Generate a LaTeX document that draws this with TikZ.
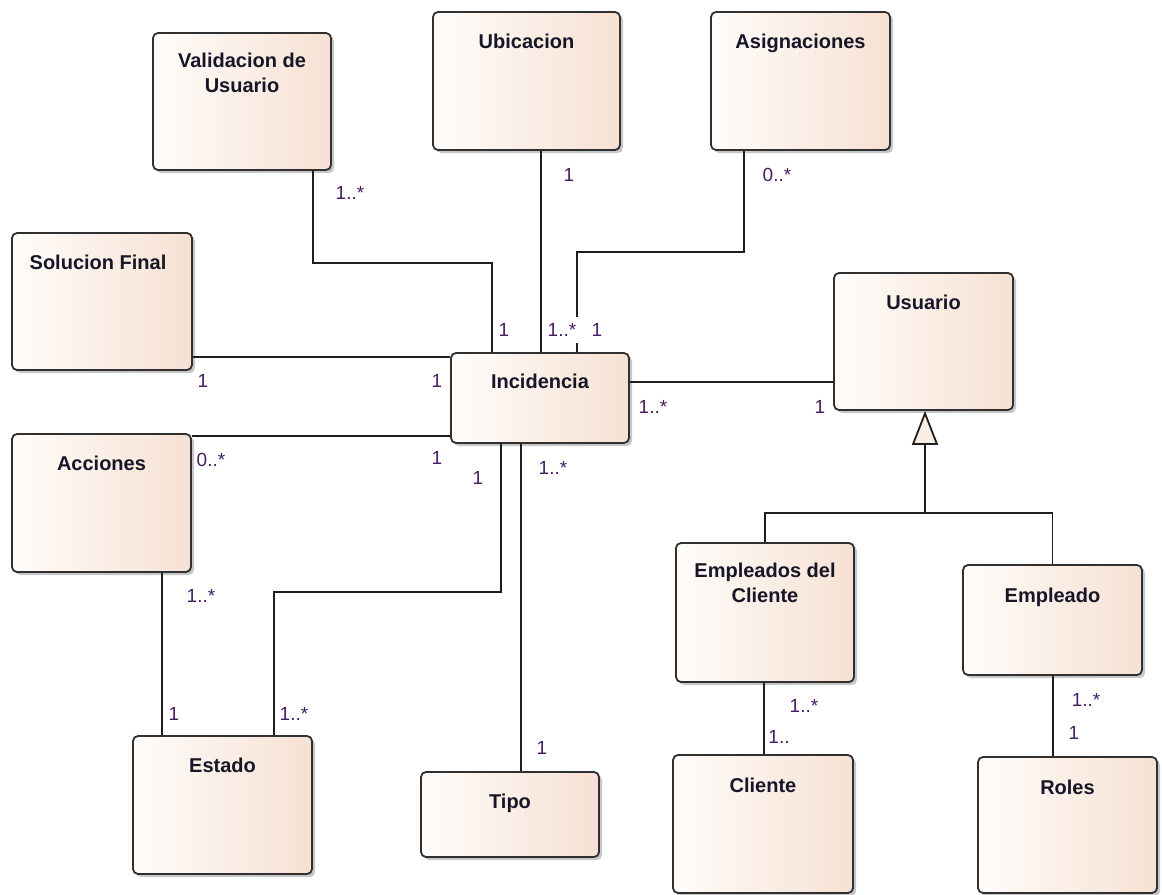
\documentclass[tikz,border=0pt]{standalone}
\usepackage{fontspec}
\setmainfont{Liberation Sans}
\usetikzlibrary{calc,shadows,arrows.meta}

\definecolor{boxL}{RGB}{255,252,250}
\definecolor{boxR}{RGB}{246,225,211}
\definecolor{boxline}{RGB}{48,48,48}
\definecolor{linecol}{RGB}{30,30,30}
\definecolor{titlecol}{RGB}{22,22,40}
\definecolor{multcol}{RGB}{70,30,95}
\definecolor{genfill}{RGB}{250,238,226}

\begin{document}
\begin{tikzpicture}[x=1bp,y=-1bp,
  box/.style={draw=boxline, line width=1.8bp, rounded corners=5bp,
    left color=boxL, right color=boxR, inner sep=0pt,
    drop shadow={shadow xshift=3bp, shadow yshift=-3bp, opacity=0.22, fill=black}},
  title/.style={font=\fontsize{20bp}{25bp}\selectfont\bfseries, text=titlecol,
    align=center, inner sep=0pt},
  mult/.style={font=\fontsize{19bp}{22bp}\selectfont, text=multcol, inner sep=1bp},
  assoc/.style={draw=linecol, line width=1.8bp},
]
\fill[white] (0,0) rectangle (1162,895);
\useasboundingbox (0,0) rectangle (1162,895);

% classes
\node[box, minimum width=178bp, minimum height=137bp] (val) at (242,101.5) {};
\node[box, minimum width=187bp, minimum height=138bp] (ubi) at (526.5,81) {};
\node[box, minimum width=179bp, minimum height=138bp] (asg) at (800.5,81) {};
\node[box, minimum width=180bp, minimum height=137bp] (sol) at (102,301.5) {};
\node[box, minimum width=179bp, minimum height=138bp] (acc) at (101.5,503) {};
\node[box, minimum width=178bp, minimum height=90bp]  (inc) at (540,398) {};
\node[box, minimum width=179bp, minimum height=137bp] (usu) at (923.5,341.5) {};
\node[box, minimum width=178bp, minimum height=139bp] (ec)  at (765,612.5) {};
\node[box, minimum width=179bp, minimum height=110bp] (emp) at (1052.5,620) {};
\node[box, minimum width=179bp, minimum height=138bp] (est) at (222.5,805) {};
\node[box, minimum width=178bp, minimum height=85bp]  (tip) at (510,814.5) {};
\node[box, minimum width=180bp, minimum height=138bp] (cli) at (763,824) {};
\node[box, minimum width=179bp, minimum height=136bp] (rol) at (1067.5,825) {};

% class names
\node[title] (valT) at ($(val.north)+(0,41)$) {Validacion de\\Usuario};
\node[title, anchor=base] (ubiT) at ($(ubi.north)+(0,37)$) {Ubicacion};
\node[title, anchor=base] (asgT) at ($(asg.north)+(0,37)$) {Asignaciones};
\node[title, anchor=base] (solT) at ($(sol.north)+(-4,37)$) {Solucion Final};
\node[title, anchor=base] (accT) at ($(acc.north)+(0,37)$) {Acciones};
\node[title, anchor=base] (incT) at ($(inc.north)+(0,36)$) {Incidencia};
\node[title, anchor=base] (usuT) at ($(usu.north)+(0,37)$) {Usuario};
\node[title] (ecT) at ($(ec.north)+(0,41)$) {Empleados del\\Cliente};
\node[title, anchor=base] (empT) at ($(emp.north)+(0,38)$) {Empleado};
\node[title, anchor=base] (estT) at ($(est.north)+(0,37)$) {Estado};
\node[title, anchor=base] (tipT) at ($(tip.north)+(0,37)$) {Tipo};
\node[title, anchor=base] (cliT) at ($(cli.north)+(0,38)$) {Cliente};
\node[title, anchor=base] (rolT) at ($(rol.north)+(0,38)$) {Roles};

% routing guides
\coordinate (xVal) at (313,0);
\coordinate (xValIn) at (492,0);
\coordinate (yVal) at (0,263);
\coordinate (xUbi) at (541,0);
\coordinate (xAsg) at (744,0);
\coordinate (xAsgIn) at (577,0);
\coordinate (yAsg) at (0,252);
\coordinate (ySol) at (0,357);
\coordinate (yAcc) at (0,436);
\coordinate (yUsu) at (0,382);
\coordinate (xIE) at (501,0);
\coordinate (yIE) at (0,592);
\coordinate (xEst) at (274,0);
\coordinate (xTip) at (521,0);
\coordinate (xAE) at (162,0);
\coordinate (gj) at (925,513);
\coordinate (xEC) at (764,0);
\coordinate (xER) at (1053,0);

% associations
\draw[assoc] (val.south -| xVal) |- (yVal -| xValIn) -- (inc.north -| xValIn);
\draw[assoc] (ubi.south -| xUbi) -- (inc.north -| xUbi);
\draw[assoc] (asg.south -| xAsg) |- (yAsg -| xAsgIn) -- (inc.north -| xAsgIn);
\draw[assoc] (sol.east |- ySol) -- (inc.west |- ySol);
\draw[assoc] (acc.east |- yAcc) -- (inc.west |- yAcc);
\draw[assoc] (inc.east |- yUsu) -- (usu.west |- yUsu);
\draw[assoc] (inc.south -| xIE) |- (yIE -| xEst) -- (est.north -| xEst);
\draw[assoc] (inc.south -| xTip) -- (tip.north -| xTip);
\draw[assoc] (acc.south -| xAE) -- (est.north -| xAE);
\draw[assoc] (ec.south -| xEC) -- (cli.north -| xEC);
\draw[assoc] (emp.south -| xER) -- (rol.north -| xER);

% generalization
\draw[assoc] (ec.north) |- (gj) -| (emp.north);
\draw[assoc, -{Triangle[fill=genfill, length=34bp, width=26bp]}] (gj) -- (usu.south -| gj);

% multiplicities
\node[mult] (m1) at (350,193) {1..*};
\node[mult] (m2) at (504,330) {1};
\node[mult] (m3) at (569,175) {1};
\node[mult, fill=white, minimum height=26bp, inner xsep=2bp] (m4) at (562,330) {1..*};
\node[mult] (m5) at (777,175) {0..*};
\node[mult] (m6) at (597,330) {1};
\node[mult] (m7) at (203,381) {1};
\node[mult] (m8) at (437,381) {1};
\node[mult] (m9) at (211,460) {0..*};
\node[mult] (m10) at (437,458) {1};
\node[mult] (m11) at (478,478) {1};
\node[mult] (m12) at (553,468) {1..*};
\node[mult] (m13) at (653,407) {1..*};
\node[mult] (m14) at (820,407) {1};
\node[mult] (m15) at (201,596) {1..*};
\node[mult] (m16) at (174,714) {1};
\node[mult] (m17) at (294,714) {1..*};
\node[mult] (m18) at (542,748) {1};
\node[mult] (m19) at (804,706) {1..*};
\node[mult] (m20) at (779,737) {1..};
\node[mult] (m21) at (1086,700) {1..*};
\node[mult] (m22) at (1074,733) {1};
\end{tikzpicture}
\end{document}
